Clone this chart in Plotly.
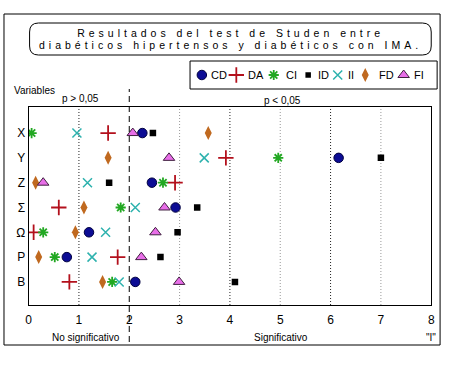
import plotly.graph_objects as go

W, H = 450, 389

# ---------------- data ----------------
categories = ["X", "Y", "Z", "Σ", "Ω", "P", "B"]
series_names = ["CD", "DA", "CI", "ID", "II", "FD", "FI"]
CD = [2.26, 6.16, 2.45, 2.92, 1.20, 0.76, 2.12]
DA = [1.58, 3.92, 2.91, 0.60, 0.10, 1.77, 0.81]
CI = [0.06, 4.96, 2.67, 1.83, 0.29, 0.52, 1.66]
ID = [2.47, 7.00, 1.60, 3.35, 2.96, 2.62, 4.10]
II = [0.96, 3.49, 1.17, 2.12, 1.53, 1.26, 1.80]
FD = [3.57, 1.58, 0.14, 1.10, 0.93, 0.20, 1.47]
FI = [2.07, 2.79, 0.29, 2.70, 2.52, 2.24, 2.99]
x_ticks = [0, 1, 2, 3, 4, 5, 6, 7, 8]
title_lines = ["Resultados del test de Studen entre",
               "diabéticos hipertensos y diabéticos con IMA."]

# ---------------- styles ----------------
styles = {
    "CD": dict(symbol="circle", size=9.5, color="#0c0c94", line=dict(color="#000040", width=1)),
    "DA": dict(symbol="cross-thin", size=11, color="#b3101c", line=dict(color="#b3101c", width=1.8)),
    "CI": dict(symbol="asterisk", size=8.5, color="#22a822", line=dict(color="#22a822", width=1.8)),
    "ID": dict(symbol="square", size=6.5, color="#000000", line=dict(color="#000000", width=0)),
    "II": dict(symbol="x-thin", size=9, color="#2eb2ae", line=dict(color="#2eb2ae", width=1.5)),
    "FD": dict(symbol="diamond-tall", size=10, color="#c0691f", line=dict(color="#c0691f", width=0)),
    "FI": dict(symbol="triangle-up", size=10, color="#e86ee8", line=dict(color="#402040", width=1)),
}
legend_marker_px = [202, 237, 275, 310, 340, 368, 407]
legend_text_px = [209, 247, 285, 318, 348, 380, 415]

values = {"CD": CD, "DA": DA, "CI": CI, "ID": ID, "II": II, "FD": FD, "FI": FI}

def px(x):
    return x / W

def py(y):
    return 1 - y / H

FONT = "Liberation Sans, Arial, sans-serif"

fig = go.Figure()
for name in series_names:
    fig.add_trace(go.Scatter(
        x=values[name], y=categories, mode="markers", name=name,
        marker=styles[name], showlegend=False, xaxis="x", yaxis="y"))

# manual legend
for i, name in enumerate(series_names):
    st = dict(styles[name])
    if name == "ID":
        st["size"] = 5.5
    fig.add_trace(go.Scatter(
        x=[legend_marker_px[i]], y=[0.5], mode="markers", marker=st,
        showlegend=False, xaxis="x2", yaxis="y2", hoverinfo="skip"))

annotations = []
for i, name in enumerate(series_names):
    annotations.append(dict(x=legend_text_px[i], y=0.5, xref="x2", yref="y2", text=name,
                            showarrow=False, xanchor="left", yanchor="middle",
                            font=dict(family=FONT, size=11, color="#000")))

ls = "font-size:10.5px;letter-spacing:4px"
annotations.append(dict(
    x=px(231), y=py(39.5), xref="paper", yref="paper", showarrow=False,
    text="<br>".join(f'<span style="{ls}">{line}</span>' for line in title_lines),
    font=dict(family=FONT, size=9.3, color="#000"), align="center",
    xanchor="center", yanchor="middle"))

def txt(x, y, t, size=10, anchor="left"):
    annotations.append(dict(x=px(x), y=py(y), xref="paper", yref="paper", text=t,
                            showarrow=False, xanchor=anchor, yanchor="middle",
                            font=dict(family=FONT, size=size, color="#000")))

txt(9, 91, "Variables")
txt(58, 99, "p &gt; 0,05")
txt(263, 100, "p &lt; 0,05")
txt(48, 337, "No significativo")
txt(253, 337, "Significativo")
txt(428, 337, "&#34;I&#34;")

shapes = []
# outer frame
shapes.append(dict(type="rect", xref="paper", yref="paper", x0=px(1), x1=px(444),
                   y0=py(14), y1=py(345), line=dict(color="#000", width=1)))
# title rounded box
x0, x1, y0, y1, r = 27, 435, 23, 55, 9
path = (f"M {px(x0+r)},{py(y0)} L {px(x1-r)},{py(y0)} "
        f"Q {px(x1)},{py(y0)} {px(x1)},{py(y0+r)} L {px(x1)},{py(y1-r)} "
        f"Q {px(x1)},{py(y1)} {px(x1-r)},{py(y1)} L {px(x0+r)},{py(y1)} "
        f"Q {px(x0)},{py(y1)} {px(x0)},{py(y1-r)} L {px(x0)},{py(y0+r)} "
        f"Q {px(x0)},{py(y0)} {px(x0+r)},{py(y0)} Z")
shapes.append(dict(type="path", xref="paper", yref="paper", path=path,
                   line=dict(color="#000", width=1)))
# legend box
shapes.append(dict(type="rect", xref="paper", yref="paper", x0=px(190), x1=px(441),
                   y0=py(61), y1=py(89), line=dict(color="#000", width=1)))
# grid lines
grid_cols = {1: "#222", 3: "#999", 4: "#222", 5: "#999", 6: "#222", 7: "#999"}
for v, c in grid_cols.items():
    shapes.append(dict(type="line", xref="x", yref="paper", x0=v, x1=v,
                       y0=py(305), y1=py(107), line=dict(color=c, width=1, dash="1px,2px"),
                       layer="below"))
# significance line at 2
shapes.append(dict(type="line", xref="x", yref="paper", x0=2, x1=2,
                   y0=py(342), y1=py(89), line=dict(color="#000", width=1, dash="6px,4px")))

fig.update_layout(
    width=W, height=H, margin=dict(l=0, r=0, t=0, b=0),
    paper_bgcolor="white", plot_bgcolor="white",
    xaxis=dict(domain=[px(26), px(435)], range=[0, 8], tickvals=x_ticks,
               showgrid=False, zeroline=False, showline=True, mirror=True,
               linecolor="#000", linewidth=1, ticks="", ticklabelstandoff=4,
               tickfont=dict(family=FONT, size=12, color="#000")),
    yaxis=dict(domain=[py(305), py(107)], type="category",
               categoryarray=categories[::-1], range=[-0.93, 7.05],
               showgrid=False, zeroline=False, showline=True, mirror=True,
               linecolor="#000", linewidth=1, ticks="",
               tickfont=dict(family=FONT, size=12, color="#000")),
    xaxis2=dict(domain=[px(190), px(441)], range=[190, 441], visible=False,
                fixedrange=True),
    yaxis2=dict(domain=[py(89), py(61)], range=[0, 1], visible=False, fixedrange=True),
    annotations=annotations, shapes=shapes, showlegend=False,
)

fig.write_html("out.html", config={"displayModeBar": False},
               post_script="document.body.style.margin='0';")
